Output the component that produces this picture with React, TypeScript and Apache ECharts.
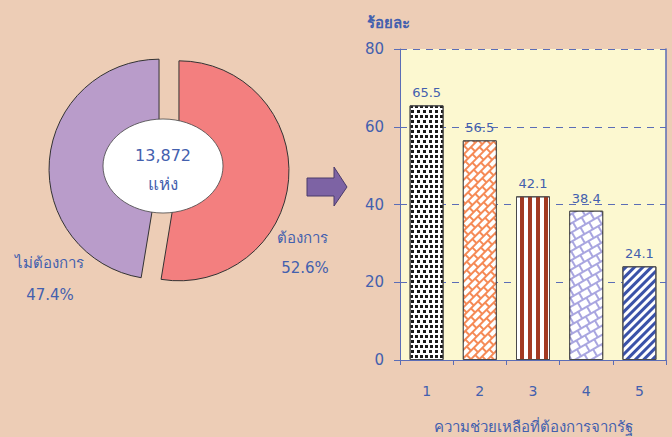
import React, { useEffect, useRef } from "react";
import * as echarts from "echarts";

const categories = ["1", "2", "3", "4", "5"];
const barValues = [65.5, 56.5, 42.1, 38.4, 24.1];
const pieNames = ["ต้องการ", "ไม่ต้องการ"];
const pieValues = [52.6, 47.4];
const centerLines = ["13,872", "แห่ง"];
const yAxisName = "ร้อยละ";
const xAxisName = "ความช่วยเหลือที่ต้องการจากรัฐ";
const yMin = 0;
const yMax = 80;
const yInterval = 20;

const FONT = "Tahoma, 'DejaVu Sans', 'Noto Sans', sans-serif";
const BLUE = "#4360AE";
const AXIS = "#5B6DB6";

const barStyles = [
  {
    color: "#ffffff",
    decal: {
      symbol: "rect",
      color: "#1a1a1a",
      dashArrayX: [[2.5, 2], [0, 2.2, 2.5, 0]],
      dashArrayY: [2.5, 1.2],
      rotation: 0,
    },
  },
  {
    color: "#F58A56",
    decal: {
      symbol: "rect",
      color: "#ffffff",
      dashArrayX: [[8, 1.2], [4, 1.2, 4, 0]],
      dashArrayY: [4, 1.2],
      rotation: -Math.PI / 4,
    },
  },
  {
    color: "#ffffff",
    decal: {
      symbol: "rect",
      color: "#A23A22",
      dashArrayX: [4, 3.4],
      dashArrayY: [10, 0],
      rotation: 0,
    },
  },
  {
    color: "#A9A6E0",
    decal: {
      symbol: "rect",
      color: "#ffffff",
      dashArrayX: [[8, 1.2], [4, 1.2, 4, 0]],
      dashArrayY: [6, 1.2],
      rotation: -Math.PI / 6,
    },
  },
  {
    color: "#ffffff",
    decal: {
      symbol: "rect",
      color: "#3A52A8",
      dashArrayX: [3, 3],
      dashArrayY: [10, 0],
      rotation: Math.PI / 4,
    },
  },
];

export default function App() {
  const ref = useRef<HTMLDivElement>(null);

  useEffect(() => {
    if (!ref.current) return;
    const chart = echarts.init(ref.current, undefined, { renderer: "svg" });

    const txt = (x: number, y: number, text: string, size: number) => ({
      type: "text",
      x,
      y,
      z: 101,
      style: {
        text,
        fill: BLUE,
        font: `${size}px ${FONT}`,
        textAlign: "center",
        textVerticalAlign: "middle",
      },
    });

    const option: any = {
      animation: false,
      backgroundColor: "#EDCDB6",
      textStyle: { fontFamily: FONT },
      grid: {
        left: 400,
        right: 6,
        top: 49,
        bottom: 77,
        show: true,
        backgroundColor: "#FCF8D0",
        borderWidth: 0,
        containLabel: false,
        outerBoundsMode: "none",
      },
      xAxis: {
        type: "category",
        data: categories,
        name: xAxisName,
        nameLocation: "middle",
        nameGap: 59,
        nameTextStyle: { color: BLUE, fontSize: 15, fontFamily: FONT },
        axisLine: { show: true, lineStyle: { color: AXIS, width: 1 } },
        axisTick: { show: true, length: 5, alignWithLabel: false, lineStyle: { color: AXIS } },
        axisLabel: { color: BLUE, fontSize: 14, margin: 24, fontFamily: FONT },
        splitLine: { show: false },
      },
      yAxis: [
        {
          type: "value",
          min: yMin,
          max: yMax,
          interval: yInterval,
          name: yAxisName,
          nameLocation: "end",
          nameGap: 19,
          nameTextStyle: {
            color: BLUE,
            fontSize: 15,
            fontWeight: "bold",
            fontFamily: FONT,
            padding: [0, 24, 0, 0],
          },
          axisLine: { show: true, lineStyle: { color: AXIS, width: 1 } },
          axisTick: { show: true, length: 6, lineStyle: { color: AXIS } },
          axisLabel: { color: BLUE, fontSize: 15, margin: 16, fontFamily: FONT },
          splitLine: { show: true, lineStyle: { color: AXIS, type: [7, 6], width: 1 } },
        },
        {
          type: "value",
          min: yMin,
          max: yMax,
          interval: yInterval,
          position: "right",
          axisLine: { show: true, lineStyle: { color: AXIS, width: 1.5 } },
          axisTick: { show: false },
          axisLabel: { show: false },
          splitLine: { show: false },
        },
      ],
      series: [
        {
          type: "bar",
          xAxisIndex: 0,
          yAxisIndex: 0,
          barWidth: 34,
          data: barValues.map((v, i) => ({
            value: v,
            itemStyle: {
              color: barStyles[i].color,
              decal: barStyles[i].decal,
              borderColor: "#4a4a4a",
              borderWidth: 1,
            },
          })),
          label: {
            show: true,
            position: "top",
            distance: 6,
            color: BLUE,
            fontSize: 13,
            fontFamily: FONT,
            formatter: (p: any) => p.value.toFixed(1),
          },
        },
        {
          type: "pie",
          center: [169, 170],
          radius: [0, 110],
          startAngle: 90,
          clockwise: true,
          selectedMode: "multiple",
          selectedOffset: 10,
          label: { show: false },
          labelLine: { show: false },
          emphasis: { disabled: true },
          itemStyle: { borderColor: "#333", borderWidth: 1 },
          data: pieNames.map((n, i) => ({
            name: n,
            value: pieValues[i],
            selected: true,
            itemStyle: { color: i === 0 ? "#F37F7F" : "#B99CCA" },
          })),
        },
      ],
      graphic: [
        {
          type: "ellipse",
          shape: { cx: 163, cy: 166, rx: 60, ry: 47 },
          style: { fill: "#ffffff", stroke: "#444", lineWidth: 0.8 },
          z: 100,
        },
        txt(163, 155, centerLines[0], 16),
        txt(163, 184, centerLines[1], 17),
        txt(302, 238, pieNames[0], 15),
        txt(305, 268, pieValues[0].toFixed(1) + "%", 15),
        txt(49, 263, pieNames[1], 15),
        txt(50, 295, pieValues[1].toFixed(1) + "%", 15),
        {
          type: "polygon",
          shape: {
            points: [
              [307, 178],
              [334, 178],
              [334, 167],
              [347, 187],
              [334, 206],
              [334, 196],
              [307, 196],
            ],
          },
          style: { fill: "#7D63A4", stroke: "#4A3A6A", lineWidth: 1 },
          z: 100,
        },
      ],
    };

    chart.setOption(option);
    return () => {
      chart.dispose();
    };
  }, []);

  return (
    <div
      ref={ref}
      style={{ position: "fixed", left: 0, top: 0, width: 672, height: 437 }}
    />
  );
}
